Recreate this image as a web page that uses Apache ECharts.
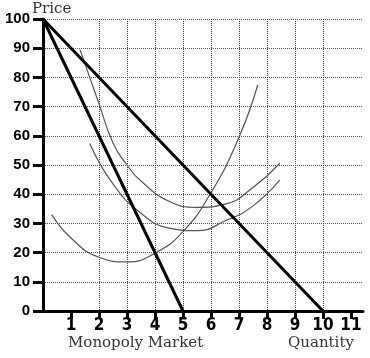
<!DOCTYPE html>
<html>
<head>
<meta charset="utf-8">
<script src="https://cdn.jsdelivr.net/npm/echarts@6/dist/echarts.min.js"></script>
<style>
html,body{margin:0;padding:0;background:#fff;}
#c{width:370px;height:358px;}
</style>
</head>
<body>
<div id="c"></div>
<script>
// Tick values
const xTickValues = [1, 2, 3, 4, 5, 6, 7, 8, 9, 10, 11];
const yTickValues = [0, 10, 20, 30, 40, 50, 60, 70, 80, 90, 100];

// Demand curve
const demandQ = [0, 10];
const demandP = [100, 0];

// Marginal revenue
const mrQ = [0, 5];
const mrP = [100, 0];

// Marginal cost
const mcQ = [0.31, 1, 2, 3, 4, 5, 6, 7, 7.67];
const mcP = [33, 25, 18.4, 16.8, 19.8, 27.2, 40.5, 59.5, 77.4];

// Average total cost
const atcQ = [1.32, 2, 2.5, 3, 3.5, 4.5, 5.5, 6.5, 7.5, 8.46];
const atcP = [89.5, 71, 57.5, 50, 44.5, 37.6, 35.5, 36.6, 42.3, 50.6];

// Average variable cost
const avcQ = [1.67, 2.5, 3.5, 4.5, 5.5, 6.5, 7.5, 8.46];
const avcP = [57.4, 43.5, 33.5, 28.4, 27.5, 30.8, 36, 44.9];

const zip = (a, b) => a.map((v, i) => [v, b[i]]);

const chart = echarts.init(document.getElementById('c'), null, {renderer: 'canvas'});

const thick = {color: '#000', width: 3};
const thin = {color: '#555', width: 1.2};

chart.setOption({
  animation: false,
  backgroundColor: '#fff',
  grid: {left: 43, top: 19, width: 320, height: 292, containLabel: false},
  xAxis: {
    type: 'value', min: 0, max: 11.43, interval: 1,
    axisLine: {show: true, onZero: false, lineStyle: {color: '#000', width: 3}},
    axisTick: {show: true, length: 8, customValues: xTickValues, lineStyle: {color: '#000', width: 3}},
    axisLabel: {
      customValues: xTickValues, margin: 6,
      fontFamily: '"Liberation Sans Narrow", "DejaVu Sans Condensed", sans-serif',
      fontWeight: 'bold', fontSize: 17, color: '#000'
    },
    splitLine: {show: true, showMinLine: false, showMaxLine: false,
      lineStyle: {color: '#444', type: 'dotted', width: 1}}
  },
  yAxis: {
    type: 'value', min: 0, max: 100, interval: 10,
    axisLine: {show: true, lineStyle: {color: '#000', width: 3}},
    axisTick: {show: true, length: 10, customValues: yTickValues, lineStyle: {color: '#000', width: 3}},
    axisLabel: {
      customValues: yTickValues, margin: 13,
      fontFamily: '"Liberation Sans", Arial, sans-serif',
      fontWeight: 'bold', fontSize: 15, color: '#000'
    },
    splitLine: {show: true, showMinLine: false, showMaxLine: true,
      lineStyle: {color: '#555', type: 'dotted', width: 1}}
  },
  graphic: [
    {type: 'text', left: 32, top: 2, style: {text: 'Price', font: '15px "DejaVu Serif", serif', fill: '#333'}},
    {type: 'text', left: 68, top: 336, style: {text: 'Monopoly Market', font: '15px "DejaVu Serif", serif', fill: '#333'}},
    {type: 'text', left: 288, top: 336, style: {text: 'Quantity', font: '15px "DejaVu Serif", serif', fill: '#333'}}
  ],
  series: [
    {type: 'line', data: zip(mcQ, mcP), smooth: 0.5, symbol: 'none', lineStyle: thin, z: 3},
    {type: 'line', data: zip(atcQ, atcP), smooth: 0.5, symbol: 'none', lineStyle: thin, z: 3},
    {type: 'line', data: zip(avcQ, avcP), smooth: 0.5, symbol: 'none', lineStyle: thin, z: 3},
    {type: 'line', data: zip(demandQ, demandP), symbol: 'none', lineStyle: thick, z: 4},
    {type: 'line', data: zip(mrQ, mrP), symbol: 'none', lineStyle: thick, z: 4}
  ]
});
</script>
</body>
</html>
